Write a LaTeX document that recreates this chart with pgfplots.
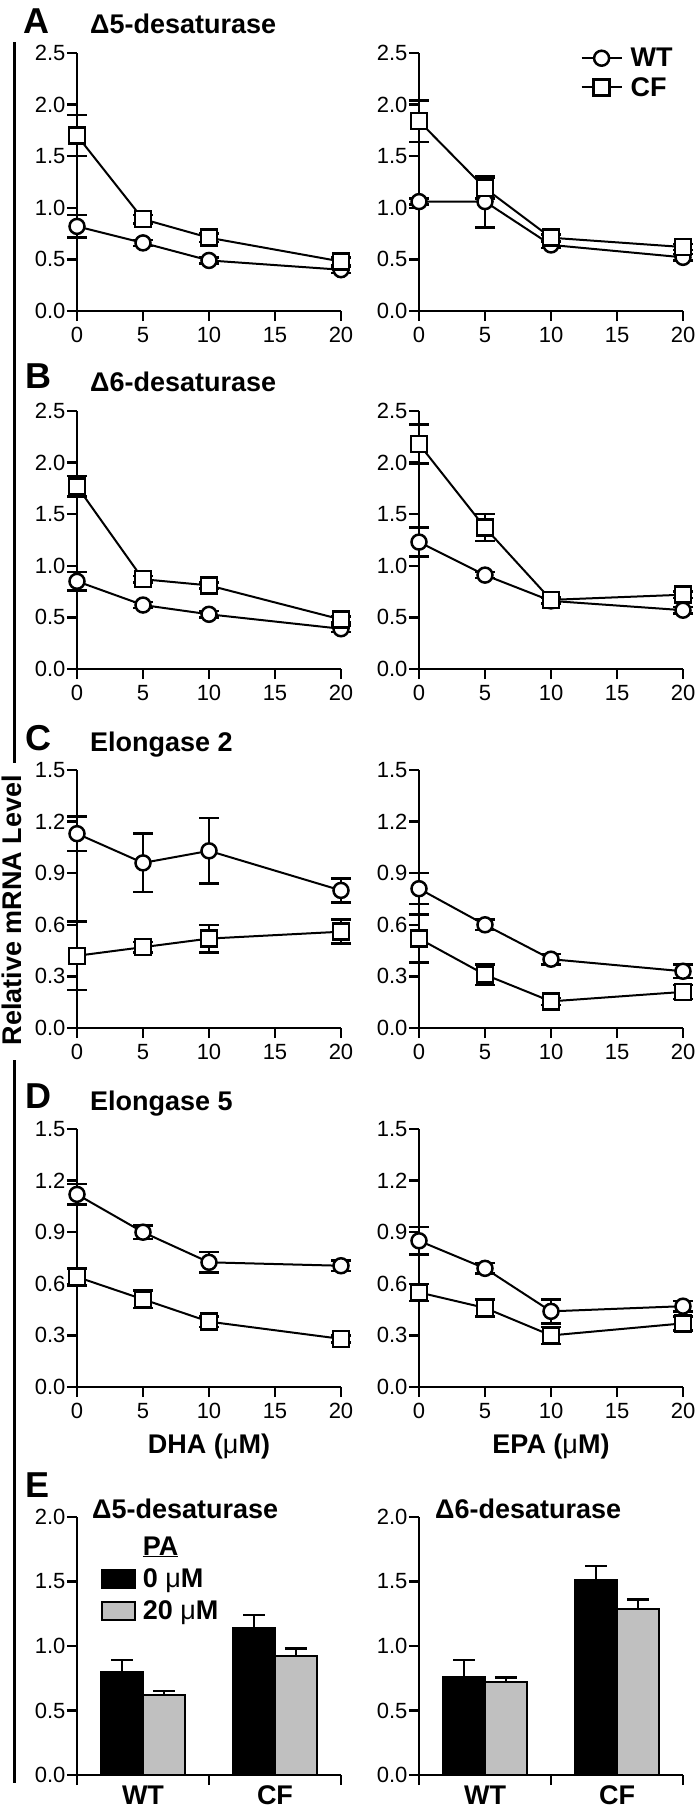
\documentclass[border=0pt]{standalone}
\usepackage{fontspec}
\setmainfont{Liberation Sans}
\usepackage{pgfplots}
\usepackage{pgfplotstable}
\pgfplotsset{compat=1.18}
\definecolor{bargray}{RGB}{192,192,192}
\newcommand\tk{\fontsize{22}{26}\selectfont}
\newcommand\bt{\fontsize{27}{31}\selectfont\bfseries}
\newcommand\lt{\fontsize{36}{40}\selectfont\bfseries}
% x, WT mean, WT error, CF mean, CF error
\pgfplotstableread{
x wt wte cf cfe
0 0.82 0.11 1.70 0.20
5 0.66 0.03 0.89 0.04
10 0.49 0.03 0.71 0.04
20 0.40 0.03 0.48 0.04
}\tAl
\pgfplotstableread{
x wt wte cf cfe
0 1.06 0.03 1.84 0.20
5 1.06 0.25 1.19 0.10
10 0.64 0.03 0.71 0.03
20 0.52 0.03 0.62 0.03
}\tAr
\pgfplotstableread{
x wt wte cf cfe
0 0.85 0.09 1.77 0.10
5 0.62 0.03 0.87 0.03
10 0.53 0.03 0.81 0.03
20 0.39 0.03 0.48 0.03
}\tBl
\pgfplotstableread{
x wt wte cf cfe
0 1.23 0.14 2.18 0.19
5 0.91 0.03 1.37 0.13
10 0.66 0.03 0.67 0.03
20 0.57 0.03 0.72 0.03
}\tBr
\pgfplotstableread{
x wt wte cf cfe
0 1.13 0.10 0.42 0.20
5 0.96 0.17 0.47 0.03
10 1.03 0.19 0.52 0.08
20 0.80 0.07 0.56 0.07
}\tCl
\pgfplotstableread{
x wt wte cf cfe
0 0.81 0.09 0.52 0.14
5 0.60 0.03 0.31 0.06
10 0.40 0.03 0.155 0.02
20 0.33 0.04 0.21 0.04
}\tCr
\pgfplotstableread{
x wt wte cf cfe
0 1.12 0.06 0.64 0.05
5 0.90 0.04 0.51 0.05
10 0.725 0.06 0.38 0.03
20 0.705 0.03 0.28 0.02
}\tDl
\pgfplotstableread{
x wt wte cf cfe
0 0.85 0.08 0.55 0.05
5 0.69 0.03 0.46 0.05
10 0.44 0.07 0.30 0.05
20 0.47 0.03 0.37 0.04
}\tDr
% bar centres: WT at 1, CF at 3; 0 uM bar left of centre, 20 uM right
\pgfplotstableread{
x y e
0.685 0.80 0.09
2.685 1.14 0.10
}\tEla
\pgfplotstableread{
x y e
1.315 0.62 0.03
3.315 0.92 0.06
}\tElb
\pgfplotstableread{
x y e
0.685 0.76 0.13
2.685 1.51 0.11
}\tEra
\pgfplotstableread{
x y e
1.315 0.72 0.035
3.315 1.29 0.07
}\tErb
\pgfplotsset{
 base/.style={scale only axis, width=264pt, height=258pt, anchor=south west,
   axis lines*=left, ymin=0, clip=false,
   tick align=outside, major tick length=10pt,
   axis line style={line width=2.5pt, black},
   every tick/.style={line width=2.5pt, black},
   tick label style={font=\tk},
   /pgf/number format/assume math mode=true,
   yticklabel style={/pgf/number format/.cd, fixed, fixed zerofill, precision=1, /tikz/.cd, xshift=2pt},
   xticklabel style={yshift=-3pt},
 },
 line/.style={base, xmin=0, xmax=20, xtick={0,5,10,15,20}},
 bars/.style={base, xmin=0, xmax=4, ymax=2, ytick={0,0.5,1,1.5,2}, xtick={0,2,4}, xticklabels={},
   extra x ticks={1,3}, extra x tick labels={WT,CF},
   extra x tick style={major tick length=0pt, tick label style={font=\bt, yshift=-4pt}}},
 errl/.style={black, line width=2pt, mark=none, forget plot,
   error bars/y dir=both, error bars/y explicit,
   error bars/error bar style={line width=2.5pt, black},
   error bars/error mark options={rotate=90, mark size=10pt, line width=2.5pt, black}},
 wtm/.style={black, only marks, mark=*, mark size=7.5pt, forget plot,
   mark options={fill=white, draw=black, line width=2.5pt}},
 cfm/.style={wtm, mark=square*, mark size=8pt},
 wtleg/.style={black, line width=2pt, mark=*, mark size=7.5pt, mark options={fill=white, draw=black, line width=2.5pt}},
 cfleg/.style={wtleg, mark=square*, mark size=8pt},
 bb/.style={ybar, bar width=41.6pt, bar shift=0pt, draw=black, line width=2pt,
   error bars/y dir=plus, error bars/y explicit,
   error bars/error bar style={line width=2.5pt, black},
   error bars/error mark options={rotate=90, mark size=11pt, line width=2.5pt, black},
   legend image code/.code={\draw[##1, line width=2pt] (0pt,-9pt) rectangle (33pt,9pt); \path (38pt,0pt);}},
}
\newcommand\pair[1]{%
\addplot[errl] table[x=x, y=wt, y error=wte] {#1};
\addplot[wtm] table[x=x, y=wt] {#1};
\addplot[errl] table[x=x, y=cf, y error=cfe] {#1};
\addplot[cfm] table[x=x, y=cf] {#1};
}
\begin{document}
\begin{tikzpicture}[x=1pt,y=1pt]
\useasboundingbox (0,0) rectangle (697,-1815);
% ---------- A ----------
\begin{axis}[line, at={(77pt,-311pt)}, ymax=2.5, ytick={0,0.5,1,1.5,2,2.5}]
\pair{\tAl}
\end{axis}
\begin{axis}[line, at={(419pt,-311pt)}, ymax=2.5, ytick={0,0.5,1,1.5,2,2.5},
  legend style={at={(rel axis cs:0.6,1.035)}, anchor=north west, draw=none, fill=none, font=\bt,
    legend cell align=left, row sep=5pt},
  legend image code/.code={\draw[mark repeat=2,mark phase=2,#1] plot coordinates {(0pt,0pt) (20pt,0pt) (40pt,0pt)}; \path (46pt,0pt);}]
\addlegendimage{wtleg}
\addlegendentry{WT}
\addlegendimage{cfleg}
\addlegendentry{CF}
\pair{\tAr}
\end{axis}
% ---------- B ----------
\begin{axis}[line, at={(77pt,-669pt)}, ymax=2.5, ytick={0,0.5,1,1.5,2,2.5}]
\pair{\tBl}
\end{axis}
\begin{axis}[line, at={(419pt,-669pt)}, ymax=2.5, ytick={0,0.5,1,1.5,2,2.5}]
\pair{\tBr}
\end{axis}
% ---------- C ----------
\begin{axis}[line, at={(77pt,-1028pt)}, ymax=1.5, ytick={0,0.3,0.6,0.9,1.2,1.5}]
\pair{\tCl}
\end{axis}
\begin{axis}[line, at={(419pt,-1028pt)}, ymax=1.5, ytick={0,0.3,0.6,0.9,1.2,1.5}]
\pair{\tCr}
\end{axis}
% ---------- D ----------
\begin{axis}[line, at={(77pt,-1387pt)}, ymax=1.5, ytick={0,0.3,0.6,0.9,1.2,1.5},
  xlabel={DHA ({\mdseries μ}M)}, xlabel style={font=\bt, yshift=-8pt}]
\pair{\tDl}
\end{axis}
\begin{axis}[line, at={(419pt,-1387pt)}, ymax=1.5, ytick={0,0.3,0.6,0.9,1.2,1.5},
  xlabel={EPA ({\mdseries μ}M)}, xlabel style={font=\bt, yshift=-8pt}]
\pair{\tDr}
\end{axis}
% ---------- E ----------
\begin{axis}[bars, at={(77pt,-1775pt)},
  legend style={at={(rel axis cs:0.078,0.94)}, anchor=north west, draw=none, fill=none, font=\bt,
    legend cell align=left, row sep=8pt}]
\addlegendimage{empty legend}
\addlegendentry{\underline{PA}}
\addplot[bb, fill=black] table[x=x, y=y, y error=e] {\tEla};
\addlegendentry{0 {\mdseries μ}M}
\addplot[bb, fill=bargray] table[x=x, y=y, y error=e] {\tElb};
\addlegendentry{20 {\mdseries μ}M}
\end{axis}
\begin{axis}[bars, at={(419pt,-1775pt)}]
\addplot[bb, fill=black] table[x=x, y=y, y error=e] {\tEra};
\addplot[bb, fill=bargray] table[x=x, y=y, y error=e] {\tErb};
\end{axis}
% ---------- titles and frame ----------
\node[anchor=base west, font=\lt, inner sep=0pt] at (23,-33) {A};
\node[anchor=base west, font=\bt, inner sep=0pt] at (90,-33) {Δ5-desaturase};
\node[anchor=base west, font=\lt, inner sep=0pt] at (25,-388) {B};
\node[anchor=base west, font=\bt, inner sep=0pt] at (90,-391) {Δ6-desaturase};
\node[anchor=base west, font=\lt, inner sep=0pt] at (25,-750) {C};
\node[anchor=base west, font=\bt, inner sep=0pt] at (90,-751) {Elongase 2};
\node[anchor=base west, font=\lt, inner sep=0pt] at (25,-1108) {D};
\node[anchor=base west, font=\bt, inner sep=0pt] at (90,-1110) {Elongase 5};
\node[anchor=base west, font=\lt, inner sep=0pt] at (25,-1497) {E};
\node[anchor=base west, font=\bt, inner sep=0pt] at (92,-1518) {Δ5-desaturase};
\node[anchor=base west, font=\bt, inner sep=0pt] at (435,-1518) {Δ6-desaturase};
\draw[line width=3pt] (14,-42) -- (14,-763);
\draw[line width=3pt] (14,-1060) -- (14,-1783);
\node[rotate=90, font=\bt, inner sep=0pt] at (12,-910) {Relative mRNA Level};
\end{tikzpicture}
\end{document}
